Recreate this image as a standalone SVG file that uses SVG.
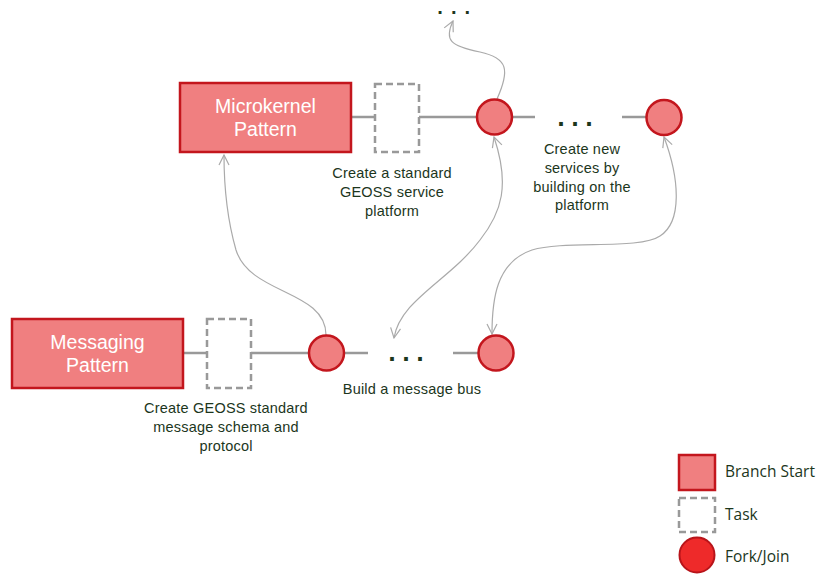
<svg xmlns="http://www.w3.org/2000/svg" width="817" height="575" viewBox="0 0 817 575">
<defs>
<style>
.branch{fill:#f07f80;stroke:#c3161d;stroke-width:2.5}
.task{fill:#fff;stroke:#999;stroke-width:2.5;stroke-dasharray:7,4}
.fork{fill:#f07f80;stroke:#c3161d;stroke-width:2.5}
.line{stroke:#999;stroke-width:2.5;fill:none}
.curve{stroke:#aaa;stroke-width:1.2;fill:none}
.btxt{font-family:"Liberation Sans",Arial,sans-serif;font-size:19.5px;fill:#fff;text-anchor:middle}
.lbl{font-family:"Liberation Sans",Arial,sans-serif;font-size:14.5px;letter-spacing:0.2px;fill:#1c361c;text-anchor:middle}
.dots{font-family:"DejaVu Sans",sans-serif;font-size:21px;font-weight:bold;fill:#1c361c;letter-spacing:6px}
.dots-s{font-family:"DejaVu Sans",sans-serif;font-size:16px;font-weight:bold;fill:#1c361c;letter-spacing:7.6px}
.leg{font-family:"Open Sans","Noto Sans",sans-serif;font-size:15.5px;fill:#1c361c}
</style>
<marker id="arr" viewBox="0 0 12 12" refX="11" refY="6" markerWidth="12" markerHeight="12" markerUnits="userSpaceOnUse" orient="auto-start-reverse">
<path d="M1,1 L11,6 L1,11" fill="none" stroke="#aaa" stroke-width="1.2"/>
</marker>
</defs>
<rect width="817" height="575" fill="#fff"/>

<g id="connectors">
<line class="line" x1="351" y1="117" x2="375" y2="117"/>
<line class="line" x1="419" y1="117" x2="477" y2="117"/>
<line class="line" x1="512" y1="117" x2="535" y2="117"/>
<line class="line" x1="622" y1="117" x2="647" y2="117"/>
<line class="line" x1="183" y1="353" x2="207" y2="353"/>
<line class="line" x1="251" y1="353" x2="309" y2="353"/>
<line class="line" x1="344" y1="353" x2="368" y2="353"/>
<line class="line" x1="453" y1="353" x2="479" y2="353"/>
<path class="curve" d="M497,99 C510,70 508,58 480,52 C450,46 444,40 453,21" marker-end="url(#arr)"/>
<path class="curve" d="M326,335 C326,290 250,295 236,250 C226,215 224,185 224,155" marker-end="url(#arr)"/>
<path class="curve" d="M494,137 C510,185 502,212 480,240 C450,280 400,300 394,338" marker-start="url(#arr)" marker-end="url(#arr)"/>
<path class="curve" d="M664,137 C680,180 682,222 660,236 C640,250 565,240 532,250 C496,262 492,300 492,334" marker-start="url(#arr)" marker-end="url(#arr)"/>
</g>

<g id="microkernel">
<rect class="branch" x="180" y="83" width="171" height="69"/>
<text class="btxt" x="265.5" y="113">Microkernel</text>
<text class="btxt" x="265.5" y="136">Pattern</text>
</g>
<g id="task1">
<rect class="task" x="375" y="84" width="44" height="68"/>
<text class="lbl" x="392" y="178">Create a standard</text>
<text class="lbl" x="392" y="197">GEOSS service</text>
<text class="lbl" x="392" y="216">platform</text>
</g>
<g id="fork1"><circle class="fork" cx="494.5" cy="117" r="17.5"/></g>
<g id="dots-top"><text class="dots-s" x="437" y="14">...</text></g>
<g id="dots-mid">
<text class="dots" x="557" y="126">...</text>
<text class="lbl" x="582" y="154">Create new</text>
<text class="lbl" x="582" y="173">services by</text>
<text class="lbl" x="582" y="192">building on the</text>
<text class="lbl" x="582" y="210">platform</text>
</g>
<g id="fork2"><circle class="fork" cx="664" cy="117.5" r="17.5"/></g>

<g id="messaging">
<rect class="branch" x="12" y="319" width="171" height="69"/>
<text class="btxt" x="97.5" y="349">Messaging</text>
<text class="btxt" x="97.5" y="372">Pattern</text>
</g>
<g id="task2">
<rect class="task" x="207" y="319" width="44" height="69"/>
<text class="lbl" x="226" y="413">Create GEOSS standard</text>
<text class="lbl" x="226" y="432">message schema and</text>
<text class="lbl" x="226" y="451">protocol</text>
</g>
<g id="fork3"><circle class="fork" cx="326.5" cy="353" r="17.5"/></g>
<g id="dots-bottom">
<text class="dots" x="388" y="361">...</text>
<text class="lbl" x="412" y="394">Build a message bus</text>
</g>
<g id="fork4"><circle class="fork" cx="496" cy="353" r="17.5"/></g>

<g id="legend">
<rect x="679" y="455" width="36" height="35" fill="#f07f80" stroke="#c3161d" stroke-width="2.5"/>
<text class="leg" x="725" y="477">Branch Start</text>
<rect class="task" x="679" y="498" width="36" height="34"/>
<text class="leg" x="725" y="520">Task</text>
<circle cx="697" cy="555" r="17.5" fill="#ee2a2a" stroke="#b8141a" stroke-width="2"/>
<text class="leg" x="725" y="562">Fork/Join</text>
</g>
</svg>
